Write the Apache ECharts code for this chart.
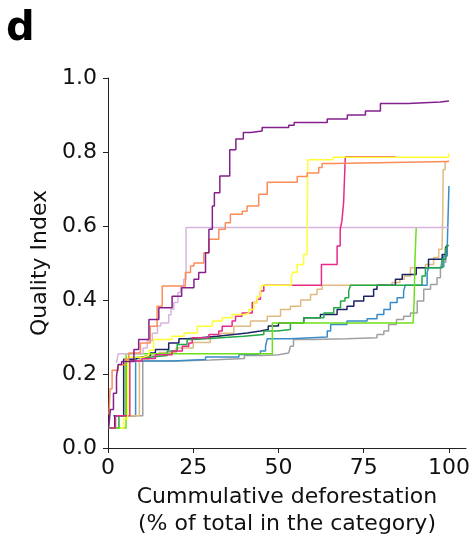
<!DOCTYPE html>
<html>
<head>
<meta charset="utf-8">
<script src="https://cdn.jsdelivr.net/npm/echarts@6.0.0/dist/echarts.min.js"></script>
<style>
  html, body { margin: 0; padding: 0; background: #fff; }
  #main { width: 472px; height: 536px; }
</style>
</head>
<body>
<div id="main"></div>
<script>
// x: cumulative deforestation (%), y: quality index — step curves
var xTicks = [0, 25, 50, 75, 100];

var purpleQ = [[0.2,0.054],[0.7,0.104],[1.6,0.148],[2.5,0.194],[3,0.226],[4,0.234],[7.6,0.266],[9,0.293],[12,0.347],
  [14.9,0.379],[18.8,0.41],[21.6,0.433],[25.2,0.456],[26.6,0.474],[28.6,0.528],[29.6,0.591],[30.6,0.654],[31.2,0.69],
  [32.8,0.735],[35.7,0.806],[37.5,0.835],[39.7,0.853],[41.8,0.857],[45.2,0.866],[53,0.872],[54.6,0.88],[64.3,0.889],
  [70.2,0.9],[75.5,0.911],[79.9,0.931],[88,0.935],[97.5,0.938],[100,0.938]];

var coralQ = [[0.3,0.09],[0.6,0.16],[1.2,0.21],[3,0.225],[5,0.24],[6.1,0.257],[9.5,0.284],[12.4,0.329],[14.4,0.383],
  [15.9,0.438],[22.7,0.474],[24.2,0.492],[25.2,0.5],[28.1,0.528],[29.6,0.564],[32.5,0.591],[34.4,0.609],[35.9,0.632],
  [39.4,0.64],[40.8,0.654],[44.2,0.686],[46.7,0.718],[55.5,0.734],[58.4,0.743],[61.8,0.758],[62.8,0.769],[66.2,0.774],[100,0.775]];

var thistleQ = [[2.5,0.23],[3,0.255],[10.3,0.27],[11.5,0.29],[13,0.31],[14.5,0.33],[15.5,0.338],[17.8,0.36],[18.5,0.375],
  [19.3,0.393],[20.5,0.42],[21.3,0.438],[22.2,0.456],[22.9,0.596],[100,0.596]];

var yellowQ = [[3.6,0.054],[4.6,0.08],[5.8,0.245],[10,0.25],[12,0.264],[13.4,0.293],[18.8,0.302],[22.3,0.311],[26.2,0.329],
  [30.6,0.343],[33.5,0.352],[36.4,0.361],[40.3,0.365],[41.3,0.374],[42.8,0.393],[43.8,0.41],[44.7,0.429],[45.2,0.44],
  [53.8,0.465],[54.2,0.475],[55.5,0.496],[57.4,0.523],[58.4,0.537],[58.6,0.779],[66,0.786],[99.8,0.786],[100,0.796]];

var pinkQ = [[0.5,0.054],[2.2,0.087],[6.4,0.235],[10,0.242],[13.9,0.252],[18.8,0.262],[21.8,0.275],[23.7,0.284],[24.7,0.298],
  [29.6,0.307],[32.5,0.316],[33.5,0.329],[36.4,0.343],[37.4,0.356],[39.3,0.365],[42.3,0.393],[43.8,0.402],[44.7,0.424],
  [45.7,0.44],[62.6,0.496],[67.2,0.546],[68.1,0.591],[68.6,0.613],[69.1,0.663],[69.6,0.787],[84.3,0.787]];

var tanQ = [[3,0.087],[9.2,0.24],[12,0.25],[15,0.258],[20,0.27],[25,0.285],[30,0.3],[33,0.31],[36.9,0.329],[41.8,0.343],
  [46.7,0.356],[50.6,0.374],[53.5,0.383],[56.5,0.4],[59.4,0.415],[61.3,0.429],[62.8,0.44],[83.3,0.447],[85.6,0.456],
  [86.9,0.465],[88.7,0.487],[93.1,0.496],[95.5,0.515],[97,0.537],[98,0.55],[98.2,0.645],[98.3,0.753],[98.9,0.772],
  [99.4,0.776],[100,0.776]];

var navyQ = [[0.5,0.054],[2,0.087],[4.6,0.24],[8,0.245],[9.5,0.25],[12.4,0.257],[13.9,0.266],[17.8,0.284],[20.8,0.295],
  [23.2,0.298],[27.1,0.302],[32,0.307],[36.9,0.311],[40.8,0.316],[44.7,0.32],[47,0.33],[50,0.338],[57.4,0.352],
  [62.3,0.361],[67.2,0.374],[70.1,0.383],[72.1,0.397],[75,0.41],[77.9,0.429],[78.9,0.44],[84.3,0.456],[86.3,0.469],
  [90.4,0.487],[94,0.51],[98,0.523],[99,0.542],[99.5,0.547]];

var greenQ = [[0,0.054],[3.2,0.087],[5.3,0.235],[8,0.245],[12,0.25],[17.4,0.262],[20.3,0.28],[23.2,0.293],[25.2,0.297],
  [32,0.302],[39.8,0.307],[45.7,0.316],[49.6,0.32],[53.5,0.338],[57.4,0.352],[63.3,0.365],[66.2,0.379],[68.2,0.397],
  [69.5,0.406],[70.6,0.424],[71.1,0.44],[92.1,0.465],[93.1,0.487],[98,0.51],[99,0.537],[99.5,0.546],[100,0.548]];

var limeQ = [[0.5,0.054],[5.3,0.255],[48.2,0.338],[89.5,0.342],[89.8,0.4],[90,0.5],[90.4,0.596]];

var blueQ = [[1.5,0.087],[8.1,0.235],[18.8,0.239],[28.6,0.246],[38.4,0.253],[43.3,0.255],[44.7,0.262],[46.2,0.275],
  [46.7,0.295],[53.5,0.3],[64.3,0.316],[65.3,0.334],[70.1,0.343],[76,0.349],[78.9,0.361],[80.9,0.374],[82.8,0.393],
  [84.8,0.406],[86.7,0.424],[87.2,0.44],[93.6,0.474],[94,0.487],[97,0.49],[98.5,0.519],[99.5,0.546],[100,0.708]];

var grayQ = [[3,0.087],[10.2,0.235],[20,0.238],[30,0.242],[40,0.25],[45,0.252],[50,0.257],[53,0.262],[53.5,0.275],
  [54.4,0.293],[60,0.295],[70,0.298],[78.9,0.307],[80.9,0.316],[82.3,0.334],[84.6,0.347],[86.7,0.356],[88.7,0.365],
  [90.7,0.397],[92.6,0.429],[94.6,0.442],[96.5,0.46],[97.5,0.483],[98,0.51],[99,0.5],[99.5,0.546]];

var curves = [
  ['gray', grayQ, '#a0a0a0'],
  ['blue', blueQ, '#3a8cc8'],
  ['tan', tanQ, '#dfbb7f'],
  ['navy', navyQ, '#1c2366'],
  ['green', greenQ, '#22a844'],
  ['lime', limeQ, '#6ee01b'],
  ['thistle', thistleQ, '#d6b5de'],
  ['pink', pinkQ, '#e7298a'],
  ['yellow', yellowQ, '#ffff33'],
  ['coral', coralQ, '#fc8d59'],
  ['purple', purpleQ, '#84208c']
];

var chart = echarts.init(document.getElementById('main'));
var font = 'DejaVu Sans';

var series = curves.map(function (c) {
  return {
    name: c[0],
    type: 'line',
    step: 'end',
    data: c[1],
    symbol: 'none',
    lineStyle: { color: c[2], width: 1.5 },
    itemStyle: { color: c[2] },
    silent: true
  };
});

var option = {
  animation: false,
  title: {
    text: 'd',
    left: 1,
    top: 5,
    textStyle: { fontFamily: font, fontWeight: 'bold', fontSize: 40, color: '#000' }
  },
  grid: { left: 108, top: 78, right: 6, bottom: 88, outerBoundsMode: 'none', containLabel: false },
  xAxis: {
    type: 'value',
    min: 0,
    max: 105,
    name: 'Cummulative deforestation\n(% of total in the category)',
    nameLocation: 'middle',
    nameGap: 34,
    nameTextStyle: { fontFamily: font, fontSize: 22, color: '#111', lineHeight: 27 },
    axisLine: { show: true, lineStyle: { color: '#222', width: 1 } },
    axisTick: { show: true, length: 5, customValues: xTicks, lineStyle: { color: '#222' } },
    axisLabel: { customValues: xTicks, fontFamily: font, fontSize: 22, color: '#111', margin: 9 },
    splitLine: { show: false }
  },
  yAxis: {
    type: 'value',
    min: 0,
    max: 1,
    interval: 0.2,
    name: 'Quality Index',
    nameLocation: 'middle',
    nameGap: 53,
    nameTextStyle: { fontFamily: font, fontSize: 22, color: '#111' },
    axisLine: { show: true, lineStyle: { color: '#222', width: 1 } },
    axisTick: { show: true, length: 5, lineStyle: { color: '#222' } },
    axisLabel: {
      fontFamily: font, fontSize: 22, color: '#111', margin: 11,
      formatter: function (v) { return v.toFixed(1); }
    },
    splitLine: { show: false }
  },
  series: series
};

chart.setOption(option);
window.onresize = chart.resize;
</script>
</body>
</html>
